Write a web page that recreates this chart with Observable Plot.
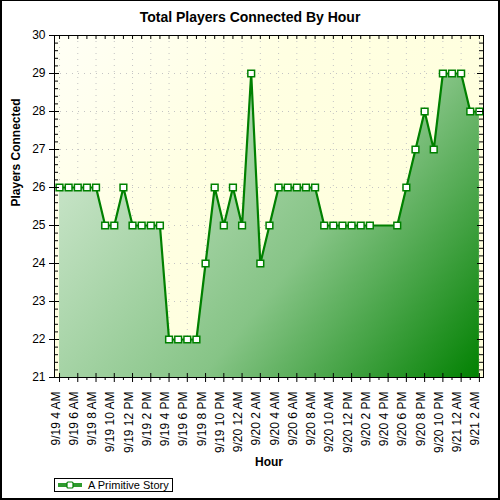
<!DOCTYPE html>
<html>
<head>
<meta charset="utf-8">
<script src="https://cdn.jsdelivr.net/npm/d3@7"></script>
<script src="https://cdn.jsdelivr.net/npm/@observablehq/plot@0.6"></script>
<style>
  html, body { margin: 0; padding: 0; background: #fff; }
  #chart {
    position: relative; width: 500px; height: 500px; box-sizing: border-box;
    border-top: 1px solid #000; border-left: 2px solid #000; border-right: 2px solid #000; border-bottom: 2px solid #000;
    font-family: "Liberation Sans", Arial, sans-serif; background: #fff; overflow: hidden;
  }
  #title {
    height: 16px; line-height: 16px; padding-top: 8px; text-align: center;
    font-weight: bold; font-size: 14px; color: #000;
  }
  #plot svg { display: block; }
  #legend {
    position: absolute; left: 52px; top: 477px; width: 117px; height: 12px;
    border: 1px solid #000; font-size: 11px; line-height: 12px; color: #000; background: #fff;
  }
  #legend svg { position: absolute; left: 2px; top: 0px; }
  #legend span { position: absolute; left: 33px; top: 0px; white-space: nowrap; }
</style>
</head>
<body>
<div id="chart">
  <div id="title">Total Players Connected By Hour</div>
  <div id="plot"></div>
  <div id="legend">
    <svg width="26" height="12">
      <rect x="1" y="4" width="24" height="4" fill="#2e9a2e"></rect>
      <rect x="10" y="3" width="6" height="6" rx="1" fill="#fff" stroke="#008000" stroke-width="1.2"></rect>
    </svg>
    <span id="legendText"></span>
  </div>
</div>
<script>
// Hours since 9/19 4 AM (hours 35 and 36 have no sample)
const hours = [0,1,2,3,4,5,6,7,8,9,10,11,12,13,14,15,16,17,18,19,20,21,22,23,24,25,26,27,28,29,30,31,32,33,34,37,38,39,40,41,42,43,44,45,46];
const players = [26,26,26,26,26,25,25,26,25,25,25,25,22,22,22,22,24,26,25,26,25,29,24,25,26,26,26,26,26,25,25,25,25,25,25,25,26,27,28,27,29,29,29,28,28];
const seriesName = "A Primitive Story";
const tickHours = [0,2,4,6,8,10,12,14,16,18,20,22,24,26,28,30,32,34,36,38,40,42,44,46];
const tickLabels = ["9/19 4 AM","9/19 6 AM","9/19 8 AM","9/19 10 AM","9/19 12 PM","9/19 2 PM","9/19 4 PM","9/19 6 PM","9/19 8 PM","9/19 10 PM","9/20 12 AM","9/20 2 AM","9/20 4 AM","9/20 6 AM","9/20 8 AM","9/20 10 AM","9/20 12 PM","9/20 2 PM","9/20 4 PM","9/20 6 PM","9/20 8 PM","9/20 10 PM","9/21 12 AM","9/21 2 AM"];
const minorHours = [1,3,5,7,9,11,13,15,17,19,21,23,25,27,29,31,33,35,37,39,41,43,45];
const yTicks = [21,22,23,24,25,26,27,28,29,30];
const yMinor = d3.range(21, 30.001, 0.2).map(v => Math.round(v * 10) / 10).filter(v => !yTicks.includes(v));
const topTicks = d3.range(0, 47, 1);
const title = "Total Players Connected By Hour";
const yLabel = "Players Connected";
const xLabel = "Hour";

const data = hours.map((h, i) => ({h, v: players[i]}));

const W = 496, H = 448;
const mL = 52, mR = 15, mT = 10, mB = 96;
const fw = W - mL - mR, fh = H - mT - mB;
const green = "#008000";

const svg = Plot.plot({
  width: W, height: H,
  marginLeft: mL, marginRight: mR, marginTop: mT, marginBottom: mB,
  style: {fontFamily: "'Liberation Sans', Arial, sans-serif", background: "transparent", color: "#000"},
  x: {domain: [-0.55, 46.45], axis: null},
  y: {domain: [21, 30], axis: null},
  marks: [
    Plot.frame({fill: "url(#bgGrad)", stroke: "none"}),
    Plot.ruleX(tickHours, {x: d => d, stroke: "#c4c4c4", strokeDasharray: "1,5"}),
    Plot.ruleY(yTicks, {y: d => d, stroke: "#c4c4c4", strokeDasharray: "1,5"}),
    Plot.areaY(data, {x: "h", y1: 21, y2: "v", fill: "url(#areaGrad)"}),
    Plot.lineY(data, {x: "h", y: "v", stroke: green, strokeWidth: 2.2}),
    Plot.dot(data, {x: "h", y: "v", symbol: "square", r: 3.8, fill: "white", stroke: green, strokeWidth: 1.5}),
    Plot.frame({stroke: "#000"}),
    // bottom ticks
    Plot.tickX(tickHours, {x: d => d, insetTop: fh - 4, insetBottom: -5, stroke: "#000"}),
    Plot.tickX(minorHours, {x: d => d, insetTop: fh, insetBottom: -3, stroke: "#000"}),
    // top ticks
    Plot.tickX(topTicks, {x: d => d, insetBottom: fh - 4, stroke: "#000"}),
    // left ticks
    Plot.tickY(yTicks, {y: d => d, insetLeft: -5, insetRight: fw - 5, stroke: "#000"}),
    Plot.tickY(yMinor, {y: d => d, insetLeft: 0, insetRight: fw - 4, stroke: "#000"}),
    // right ticks
    Plot.tickY(yTicks, {y: d => d, insetLeft: fw - 6, insetRight: 0, stroke: "#000"}),
    Plot.tickY(yMinor, {y: d => d, insetLeft: fw - 4, insetRight: 0, stroke: "#000"}),
    // tick labels
    Plot.text(yTicks, {y: d => d, text: d => String(d), frameAnchor: "left", dx: -9, textAnchor: "end", fontSize: 12, fill: "#000"}),
    Plot.text(tickHours, {x: d => d, text: (d, i) => tickLabels[i], frameAnchor: "bottom", dy: 14, rotate: -90, textAnchor: "end", fontSize: 12, fill: "#000"}),
    // axis titles
    Plot.text([yLabel], {text: d => d, frameAnchor: "left", dx: -38, rotate: -90, fontSize: 12, fontWeight: "bold", fill: "#000"}),
    Plot.text([xLabel], {text: d => d, frameAnchor: "bottom", dy: 88, fontSize: 12, fontWeight: "bold", fill: "#000"})
  ]
});

d3.select(svg).insert("defs", ":first-child").html(`
  <linearGradient id="areaGrad" gradientUnits="userSpaceOnUse" x1="${mL}" y1="${mT}" x2="${mL + fw}" y2="${mT + fh}">
    <stop offset="0" stop-color="#e6f3e6"/>
    <stop offset="0.18" stop-color="#c6e3c6"/>
    <stop offset="0.6" stop-color="#86c486"/>
    <stop offset="1" stop-color="#008000"/>
  </linearGradient>
  <linearGradient id="bgGrad" gradientUnits="userSpaceOnUse" x1="${mL}" y1="${mT}" x2="${mL + fw}" y2="${mT + fh}">
    <stop offset="0" stop-color="#fffff6"/>
    <stop offset="0.35" stop-color="#ffffe2"/>
    <stop offset="1" stop-color="#ffffda"/>
  </linearGradient>
`);

document.getElementById("plot").appendChild(svg);
document.getElementById("title").textContent = title;
document.getElementById("legendText").textContent = seriesName;
</script>
</body>
</html>
